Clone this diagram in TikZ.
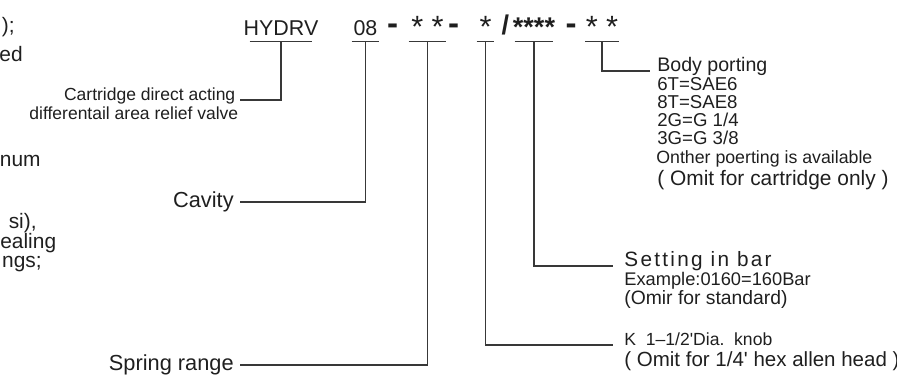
\documentclass[tikz,border=0pt]{standalone}
\usepackage{fontspec}
\setmainfont{Liberation Sans}
\usepackage{xcolor}
\usetikzlibrary{positioning}
\definecolor{inkdark}{rgb}{0.12, 0.12, 0.12}
\definecolor{leadgray}{rgb}{0.22, 0.22, 0.22}

\begin{document}
\begin{tikzpicture}[
  x=0.02cm, y=-0.02cm,
  seg/.style={
    inner xsep=0pt, inner ysep=3.4pt, text depth=0pt,
    anchor=base, text=inkdark,
    font=\fontsize{12.2}{14}\selectfont
  },
  starseg/.style={seg, inner ysep=2.3pt, font=\fontsize{17.5}{20}\selectfont},
  boldseg/.style={seg, inner ysep=2.9pt, font=\fontsize{15.4}{18}\selectfont\bfseries},
  hyph/.style={inner sep=0pt, anchor=base, text=inkdark,
    font=\fontsize{18.8}{20}\selectfont\bfseries},
  frag/.style={inner sep=0pt, anchor=base east, text=inkdark,
    font=\fontsize{11.9}{14}\selectfont},
  leftlbl/.style={inner xsep=2.5pt, inner ysep=0pt, text=inkdark,
    font=\fontsize{9.96}{12}\selectfont},
  biglbl/.style={inner xsep=3.4pt, inner ysep=0pt, text=inkdark,
    font=\fontsize{12.4}{14}\selectfont},
  note/.style={inner sep=0pt, anchor=base west, text=inkdark},
  lead/.style={draw=leadgray, line width=0.6pt}
]
  \useasboundingbox (0,0) rectangle (897,380);
  \clip (0,0) rectangle (897,380);

  % Text cut off at the left edge
  \node[frag] (fa) at (15,32)   {);};
  \node[frag] (fb) at (23,61)   {ed};
  \node[frag] (fc) at (41,166)  {num};
  \node[frag] (fd) at (37,228)  {si),};
  \node[frag] (fe) at (56.5,248) {ealing};
  \node[frag] (ff) at (42,267)  {ngs;};

  % Model code
  \node[seg, minimum width=1.24cm, inner xsep=-3.67pt] (hydrv) at (281,35) {HYDRV};
  \node[seg, minimum width=0.54cm] (cav) at (365.5,35) {08};
  \node[hyph] (d1) at (392.5,34) {-};
  \node[starseg, minimum width=0.74cm] (spr) at (427.5,37) {* *};
  \node[hyph] (d2) at (453.5,34) {-};
  \node[starseg, minimum width=0.34cm] (knob) at (485.5,37) {*};
  \node[hyph, font=\fontsize{15.4}{18}\selectfont\bfseries] (sl) at (505.5,34) {/};
  \node[boldseg, minimum width=0.72cm, inner xsep=-1.1pt] (setb) at (534,36) {****};
  \node[hyph] (d3) at (571,34) {-};
  \node[starseg, minimum width=0.60cm] (port) at (602,37) {* *};

  % Labels on the left
  \node[leftlbl, anchor=base east] (cart1) at (240,100) {Cartridge direct acting};
  \node[leftlbl, anchor=base east] (cart2) at (243,119) {differentail area relief valve};
  \node[biglbl, anchor=east] (cavity) at (240,202) {Cavity};
  \node[biglbl, anchor=east] (spring) at (240,365) {Spring range};

  % Body porting
  \node[note, inner xsep=4pt, font=\fontsize{11.15}{13}\selectfont] (body) at (650,71) {Body porting};
  \node[note, font=\fontsize{10.6}{12}\selectfont] (p6t) at (657,90)  {6T=SAE6};
  \node[note, font=\fontsize{10.6}{12}\selectfont] (p8t) at (657,108) {8T=SAE8};
  \node[note, font=\fontsize{10.6}{12}\selectfont] (p2g) at (657,126) {2G=G 1/4};
  \node[note, font=\fontsize{10.6}{12}\selectfont] (p3g) at (657,144) {3G=G 3/8};
  \node[note, font=\fontsize{10.1}{12}\selectfont] (pother) at (656,163) {Onther poerting is available};
  \node[note, font=\fontsize{11.9}{14}\selectfont] (pomit) at (657,185) {( Omit for cartridge only )};

  % Setting
  \node[note, inner xsep=6.3pt, font=\fontsize{11.8}{13}\selectfont\addfontfeature{LetterSpace=11}] (setting) at (613,266) {Setting in bar};
  \node[note, font=\fontsize{10.4}{12}\selectfont] (sex) at (624,285) {Example:0160=160Bar};
  \node[note, font=\fontsize{11}{13}\selectfont] (somit) at (624,304) {(Omir for standard)};

  % Knob
  \node[note, inner xsep=6.3pt, font=\fontsize{10}{12}\selectfont] (kdia) at (613,345) {K\ \ 1--1/2\textquotesingle Dia.\ \ knob};
  \node[note, font=\fontsize{11.67}{14}\selectfont] (komit) at (624,366) {( Omit for 1/4\textquotesingle\ hex allen head )};

  % Underlines and leaders
  \draw[lead] (hydrv.south west) -- (hydrv.south east);
  \draw[lead] (hydrv.south) |- (cart1.base east);
  \draw[lead] (cav.south west) -- (cav.south east);
  \draw[lead] (cav.south) |- (cavity.east);
  \draw[lead] (spr.south west) -- (spr.south east);
  \draw[lead] (spr.south) |- (spring.east);
  \draw[lead] (knob.south west) -- (knob.south east);
  \draw[lead] (knob.south) |- (kdia.base west);
  \draw[lead] (setb.south west) -- (setb.south east);
  \draw[lead] (setb.south) |- (setting.base west);
  \draw[lead] (port.south west) -- (port.south east);
  \draw[lead] (port.south) |- (body.base west);
\end{tikzpicture}
\end{document}
